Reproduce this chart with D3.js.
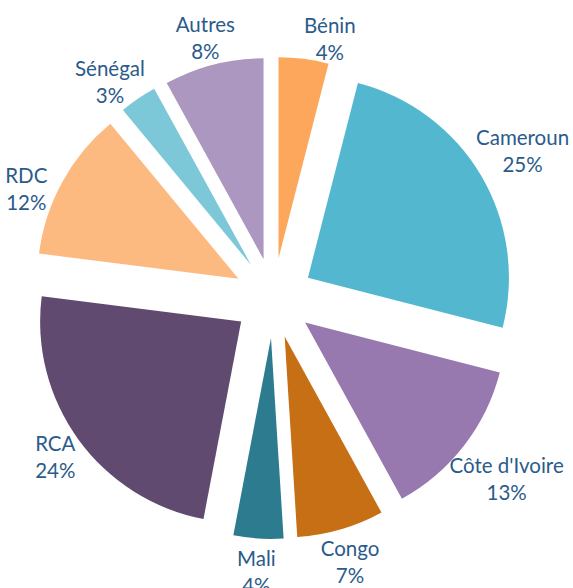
<!DOCTYPE html>
<html>
<head>
<meta charset="utf-8">
<script src="https://cdn.jsdelivr.net/npm/d3@7"></script>
<style>
  body { margin: 0; background: #fff; }
  svg { display: block; }
  .lbl { font-family: Lato, "Open Sans", sans-serif; font-size: 20.5px; fill: #2B5B8B; }
</style>
</head>
<body>
<svg id="chart"></svg>
<script>
// share of each country, clockwise from 12 o'clock
const countries = ["Bénin", "Cameroun", "Côte d'Ivoire", "Congo", "Mali", "RCA", "RDC", "Sénégal", "Autres"];
const shares = [4, 25, 13, 7, 4, 24, 12, 3, 8];
const colors = ["#FDA75C", "#53B8CF", "#9779AF", "#C66F15", "#2D7B8E", "#604A70", "#FDBA80", "#7DC8D8", "#AC97C1"];

// some labels were dragged by hand in the original, keep that
const labelNudge = { "Bénin": [22, 12], "RDC": [-11, 20], "Sénégal": [-8, 12], "Autres": [0, 5] };

function createPie(svgSelector) {
  const width = 573;
  const height = 588;
  const cx = 273.5, cy = 298;
  const radius = 201;
  const explode = 40;
  const lineGap = 27;
  const labelGap = 6;

  const svg = d3.select(svgSelector).attr("width", width).attr("height", height);
  const g = svg.append("g").attr("transform", `translate(${cx}, ${cy})`);

  const pie = d3.pie().sort(null).value((d) => d.value);
  const arc = d3.arc().innerRadius(0).outerRadius(radius);

  const data = pie(countries.map((name, i) => ({ name, value: shares[i], color: colors[i] })));
  const mid = (d) => (d.startAngle + d.endAngle) / 2;

  // --- Slices, each pushed out along its middle angle ---
  g.selectAll("path")
    .data(data)
    .enter()
    .append("path")
    .attr("d", arc)
    .attr("fill", (d) => d.data.color)
    .attr("transform", (d) => {
      const a = mid(d);
      return `translate(${explode * Math.sin(a)}, ${-explode * Math.cos(a)})`;
    });

  // --- Labels, outside end ---
  const labels = g.selectAll("text.lbl")
    .data(data)
    .enter()
    .append("text")
    .attr("class", "lbl")
    .attr("text-anchor", "middle");

  labels.append("tspan").attr("class", "l1").text((d) => d.data.name);
  labels.append("tspan").attr("class", "l2").text((d) => `${d.data.value}%`);

  labels.each(function (d) {
    const t = d3.select(this);
    const w = Math.max(
      t.select(".l1").node().getComputedTextLength(),
      t.select(".l2").node().getComputedTextLength()
    );
    const h = 2 * lineGap;
    const a = mid(d);
    const s = Math.sin(a), c = -Math.cos(a);
    // label box sitting just outside the exploded rim
    const r = explode + radius + labelGap + Math.hypot((w / 2) * s, (h / 2) * c);
    const nudge = labelNudge[d.data.name] || [0, 0];
    const x = r * s + nudge[0];
    const y = r * c + nudge[1];
    t.select(".l1").attr("x", x).attr("y", y - lineGap / 2).attr("dominant-baseline", "central");
    t.select(".l2").attr("x", x).attr("y", y + lineGap / 2).attr("dominant-baseline", "central");
  });
}

createPie("#chart");
</script>
</body>
</html>
